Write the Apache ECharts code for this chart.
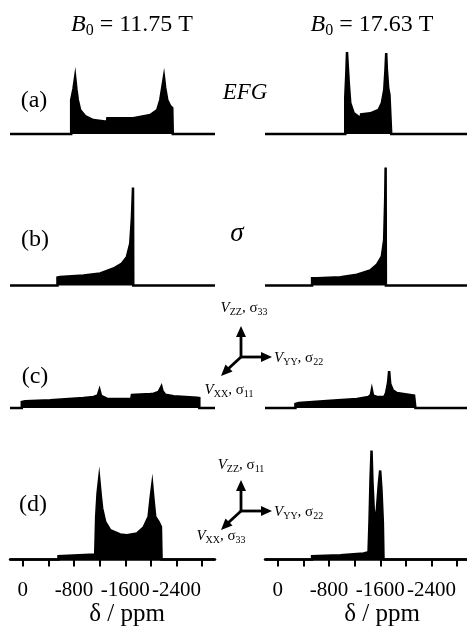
<!DOCTYPE html>
<html>
<head>
<meta charset="utf-8">
<script src="https://cdn.jsdelivr.net/npm/echarts@6/dist/echarts.min.js"></script>
<style>
  html, body { margin: 0; padding: 0; background: #fff; }
  #chart { width: 467px; height: 627px; }
</style>
</head>
<body>
<div id="chart"></div>
<script>
// chemical shift (ppm) vs intensity (a.u.)
const xTicks = [0, -400, -800, -1200, -1600, -2000, -2400, -2800]
const xLabels = [0, -800, -1600, -2400]

// (a) EFG only
const efgLow = [[200, 0], [-755, 0], [-755, 34], [-790, 45], [-817, 57], [-838, 44], [-859, 34], [-895, 24], [-973, 18],
  [-1098, 14], [-1313, 12.3], [-1320, 15.7], [-1723, 15.7], [-1989, 19], [-2098, 24], [-2145, 34], [-2188, 51],
  [-2203, 57], [-2223, 46], [-2255, 34], [-2300, 28], [-2333, 26], [-2341, 0], [-3000, 0]]
const efgHigh = [[200, 0], [-1053, 0], [-1053, 37], [-1069, 60], [-1080, 82], [-1095, 65], [-1111, 48], [-1131, 31],
  [-1183, 21], [-1261, 17.3], [-1297, 17], [-1300, 19.7], [-1443, 20.7], [-1572, 24], [-1624, 31], [-1661, 44],
  [-1681, 65], [-1692, 81], [-1702, 65], [-1723, 46], [-1743, 39], [-1765, 37], [-1770, 0], [-3000, 0]]

// (b) shielding only
const csaLow = [[200, 0], [-541, 0], [-541, 8], [-583, 8.6], [-947, 10], [-1208, 12], [-1416, 17], [-1547, 22],
  [-1625, 28.6], [-1677, 42], [-1703, 68], [-1720, 98], [-1724, 0], [-3000, 0]]
const csaHigh = [[200, 0], [-535, 0], [-535, 7.3], [-613, 7.3], [-976, 8.3], [-1235, 10.7], [-1442, 15], [-1546, 20.7],
  [-1624, 29], [-1660, 45.7], [-1676, 85.7], [-1683, 118], [-1687, 0], [-3000, 0]]

// (c) combined, first orientation
const combCLow = [[200, 0], [16, 0], [16, 6], [-36, 6.7], [-427, 7.7], [-947, 10], [-1104, 11], [-1170, 12.7],
  [-1197, 18], [-1222, 12], [-1313, 9.3], [-1692, 9], [-1703, 13], [-1989, 14], [-2041, 14.3], [-2119, 16],
  [-2145, 17.5], [-2163, 21.5], [-2180, 17], [-2223, 13.3], [-2354, 11.7], [-2719, 10.3], [-2755, 10],
  [-2755, 0], [-3000, 0]]
const combCHigh = [[200, 0], [-275, 0], [-275, 4], [-327, 5], [-820, 7.3], [-1235, 9], [-1416, 11], [-1452, 13],
  [-1468, 18.3], [-1486, 12.5], [-1546, 11], [-1660, 11], [-1690, 15], [-1720, 25], [-1738, 37],
  [-1755, 24], [-1795, 17.7], [-1858, 15], [-2127, 12.3], [-2148, 12], [-2148, 0], [-3000, 0]]

// (d) combined, second orientation
const combDLow = [[200, 0], [-557, 0], [-557, 3.3], [-583, 3.7], [-1130, 5], [-1145, 5], [-1145, 42.7], [-1166, 66],
  [-1192, 81], [-1219, 62.7], [-1239, 51], [-1286, 37.7], [-1364, 29.3], [-1520, 25], [-1625, 24.3],
  [-1781, 26], [-1885, 32], [-1963, 42.7], [-1994, 61], [-2020, 74.3], [-2041, 59.3], [-2067, 42.7],
  [-2119, 37.7], [-2156, 32.7], [-2166, 0], [-3000, 0]]
const combDHigh = [[200, 0], [-535, 0], [-535, 3.3], [-976, 4.3], [-1338, 6], [-1416, 7.3], [-1432, 8], [-1432, 40],
  [-1447, 80], [-1463, 109], [-1478, 76.7], [-1500, 46.7], [-1520, 40], [-1546, 50], [-1578, 76.7],
  [-1598, 89], [-1618, 70], [-1640, 36.7], [-1650, 0], [-3000, 0]]

const rows = [
  [efgLow, efgHigh],
  [csaLow, csaHigh],
  [combCLow, combCHigh],
  [combDLow, combDHigh]
]
const baselines = [134, 285.5, 408, 559.5]
const colLeft = [10, 265]
const serif = 'Liberation Serif'

const grid = []
const xAxis = []
const yAxis = []
const series = []

rows.forEach((pair, r) => {
  pair.forEach((spec, c) => {
    const i = grid.length
    const last = r === rows.length - 1
    grid.push({
      left: colLeft[c], top: baselines[r] - 120, width: 205, height: 120,
      outerBoundsMode: 'none'
    })
    xAxis.push({
      gridIndex: i, type: 'value', min: -3000, max: 200, inverse: true,
      show: last, offset: 7,
      axisLine: { show: true, lineStyle: { color: '#000', width: 2.5 } },
      axisTick: { show: true, inside: false, length: 7, customValues: xTicks, lineStyle: { color: '#000', width: 2 } },
      axisLabel: {
        customValues: xLabels, margin: 13, fontSize: 21, fontFamily: serif, color: '#000',
        hideOverlap: false, showMinLabel: true, showMaxLabel: true,
        formatter: v => String(v)
      },
      splitLine: { show: false }
    })
    yAxis.push({ gridIndex: i, type: 'value', min: 0, max: 120, show: false })
    series.push({
      type: 'line', xAxisIndex: i, yAxisIndex: i, data: spec,
      symbol: 'none', clip: false, silent: true,
      lineStyle: { color: '#000', width: 2.5, join: 'miter' },
      areaStyle: { color: '#000', opacity: 1, origin: 'start' }
    })
  })
})

function txt (x, y, text, rich, align) {
  return {
    type: 'text', x: x, y: y, silent: true,
    style: {
      text: text, rich: rich, align: align || 'center', verticalAlign: 'middle',
      fill: '#000', fontFamily: serif, fontSize: 20
    }
  }
}

const titleRich = {
  i: { fontFamily: serif, fontStyle: 'italic', fontSize: 24, lineHeight: 28 },
  s: { fontFamily: serif, fontSize: 16, lineHeight: 16, verticalAlign: 'bottom' },
  n: { fontFamily: serif, fontSize: 24, lineHeight: 28 }
}
const tagRich = { n: { fontFamily: serif, fontSize: 24, lineHeight: 26 } }
const axRich = {
  v: { fontFamily: serif, fontStyle: 'italic', fontSize: 15, lineHeight: 18 },
  s: { fontFamily: serif, fontSize: 10, lineHeight: 10, verticalAlign: 'bottom' },
  n: { fontFamily: serif, fontSize: 15, lineHeight: 18 }
}

function frame (ox, oy) {
  const st = { stroke: '#000', lineWidth: 2.8 }
  return [
    { type: 'line', silent: true, shape: { x1: ox, y1: oy, x2: ox, y2: oy - 22 }, style: st },
    { type: 'polygon', silent: true, shape: { points: [[ox - 5, oy - 20], [ox + 5, oy - 20], [ox, oy - 31]] }, style: { fill: '#000' } },
    { type: 'line', silent: true, shape: { x1: ox, y1: oy, x2: ox + 22, y2: oy }, style: st },
    { type: 'polygon', silent: true, shape: { points: [[ox + 20, oy - 5], [ox + 20, oy + 5], [ox + 31, oy]] }, style: { fill: '#000' } },
    { type: 'line', silent: true, shape: { x1: ox, y1: oy, x2: ox - 13, y2: oy + 12 }, style: st },
    { type: 'polygon', silent: true, shape: { points: [[ox - 8.5, oy + 14.5], [ox - 15.5, oy + 7.5], [ox - 20, oy + 19]] }, style: { fill: '#000' } }
  ]
}

const graphic = [
  txt(132, 25, '{i|B}{s|0}{n| = 11.75 T}', titleRich),
  txt(372, 25, '{i|B}{s|0}{n| = 17.63 T}', titleRich),
  txt(34, 101, '{n|(a)}', tagRich),
  txt(35, 240, '{n|(b)}', tagRich),
  txt(35, 377, '{n|(c)}', tagRich),
  txt(33, 505, '{n|(d)}', tagRich),
  txt(245, 93, '{v|EFG}', { v: { fontFamily: serif, fontStyle: 'italic', fontSize: 23, lineHeight: 26 } }),
  txt(237, 234, '{v|σ}', { v: { fontFamily: serif, fontStyle: 'italic', fontSize: 27, lineHeight: 30 } }),
  txt(244, 308, '{v|V}{s|ZZ}{n|, σ}{s|33}', axRich),
  txt(274, 358, '{v|V}{s|YY}{n|, σ}{s|22}', axRich, 'left'),
  txt(229, 390, '{v|V}{s|XX}{n|, σ}{s|11}', axRich),
  txt(241, 465, '{v|V}{s|ZZ}{n|, σ}{s|11}', axRich),
  txt(274, 512, '{v|V}{s|YY}{n|, σ}{s|22}', axRich, 'left'),
  txt(221, 536, '{v|V}{s|XX}{n|, σ}{s|33}', axRich),
  txt(127, 614, '{n|δ / ppm}', { n: { fontFamily: serif, fontSize: 25, lineHeight: 28 } }),
  txt(382, 614, '{n|δ / ppm}', { n: { fontFamily: serif, fontSize: 25, lineHeight: 28 } })
].concat(frame(241, 357), frame(241, 511))

const chart = echarts.init(document.getElementById('chart'), null, { renderer: 'canvas' })
chart.setOption({
  animation: false,
  backgroundColor: '#fff',
  textStyle: { fontFamily: serif },
  grid: grid,
  xAxis: xAxis,
  yAxis: yAxis,
  series: series,
  graphic: graphic
})
</script>
</body>
</html>
